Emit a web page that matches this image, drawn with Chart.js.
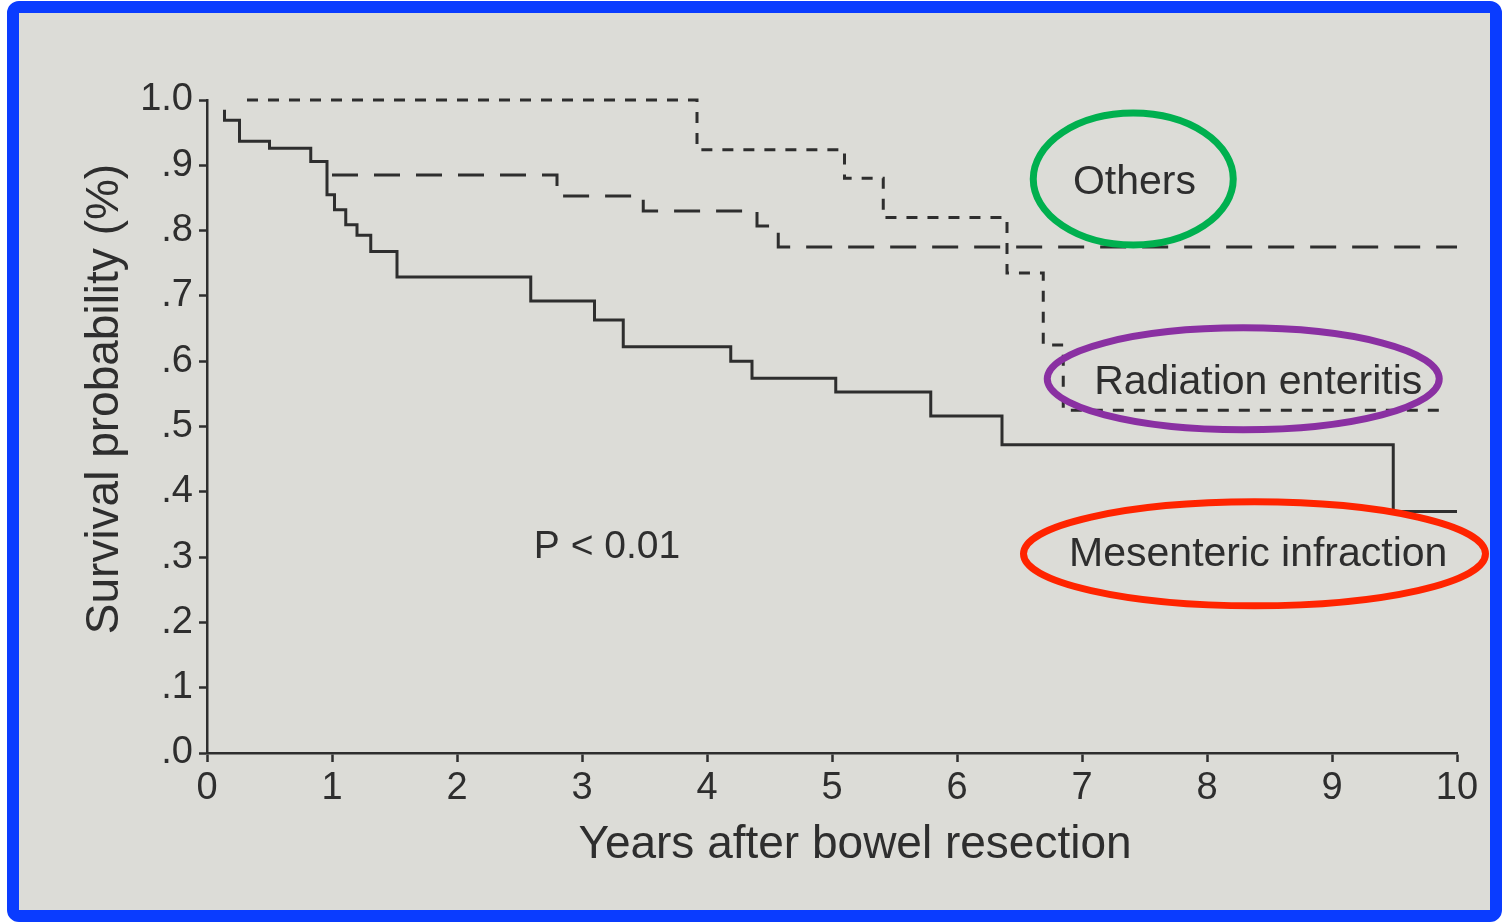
<!DOCTYPE html>
<html>
<head>
<meta charset="utf-8">
<script src="https://cdn.jsdelivr.net/npm/chart.js@4.4.1/dist/chart.umd.min.js"></script>
<style>
  html, body { margin: 0; padding: 0; background: #fff; width: 1502px; height: 922px; overflow: hidden; }
  #frame {
    position: absolute; left: 7px; top: 1px; width: 1495px; height: 921px;
    box-sizing: border-box; border: 12px solid #0a3cff; border-radius: 12px;
    overflow: hidden; background: #dcdcd7;
  }
  #chart { position: absolute; left: -19px; top: -13px; }
</style>
</head>
<body>
<div id="frame"><canvas id="chart" width="1502" height="922"></canvas></div>
<script>
// Kaplan-Meier steps (years, survival)
const mesentericYears = [0.14, 0.14, 0.26, 0.50, 0.83, 0.96, 1.02, 1.11, 1.20, 1.31, 1.52, 2.59, 3.10, 3.33, 4.19, 4.36, 5.03, 5.79, 6.36, 9.49, 10.0];
const mesentericSurvival = [0.985, 0.969, 0.937, 0.926, 0.906, 0.855, 0.832, 0.809, 0.793, 0.768, 0.729, 0.692, 0.663, 0.622, 0.600, 0.574, 0.553, 0.516, 0.472, 0.370, 0.370];

const othersYears = [1.0, 2.80, 3.49, 4.40, 4.57, 10.0];
const othersSurvival = [0.885, 0.853, 0.830, 0.807, 0.775, 0.775];

const radiationYears = [0.32, 3.92, 5.10, 5.41, 6.40, 6.69, 6.85, 9.93];
const radiationSurvival = [1.0, 0.924, 0.880, 0.820, 0.735, 0.625, 0.525, 0.525];

const xTickLabels = ['0', '1', '2', '3', '4', '5', '6', '7', '8', '9', '10'];
const yTickLabels = ['.0', '.1', '.2', '.3', '.4', '.5', '.6', '.7', '.8', '.9', '1.0'];

const ink = '#2e2e2e';
const font = '"Liberation Sans", Arial, Helvetica, sans-serif';

function points(xs, ys) {
  return xs.map((x, i) => ({ x: x, y: ys[i] }));
}

// labels with circled notes, placed in data units
const notes = [
  { text: 'Others', x: 7.42, y: 0.873, ex: 7.41, ey: 0.879, rx: 100, ry: 66, color: '#00b04f' },
  { text: 'Radiation enteritis', x: 8.41, y: 0.567, ex: 8.29, ey: 0.573, rx: 196, ry: 51, color: '#8a30a2' },
  { text: 'Mesenteric infraction', x: 8.41, y: 0.303, ex: 8.38, ey: 0.305, rx: 231, ry: 52, color: '#ff2400' },
  { text: 'P < 0.01', x: 3.20, y: 0.315 }
];

const notesPlugin = {
  id: 'notes',
  afterDatasetsDraw(chart) {
    const ctx = chart.ctx;
    const xs = chart.scales.x, ys = chart.scales.y;
    ctx.save();
    ctx.fillStyle = ink;
    ctx.textAlign = 'center';
    ctx.textBaseline = 'middle';

    // axis titles
    ctx.font = '46px ' + font;
    ctx.fillText('Years after bowel resection', 855, 845);
    ctx.save();
    ctx.translate(105, 399);
    ctx.rotate(-Math.PI / 2);
    ctx.fillText('Survival probability (%)', 0, 0);
    ctx.restore();

    notes.forEach(n => {
      ctx.font = (n.color ? 41 : 39) + 'px ' + font;
      ctx.fillStyle = ink;
      ctx.fillText(n.text, xs.getPixelForValue(n.x), ys.getPixelForValue(n.y));
      if (n.color) {
        ctx.beginPath();
        ctx.ellipse(xs.getPixelForValue(n.ex), ys.getPixelForValue(n.ey), n.rx, n.ry, 0, 0, Math.PI * 2);
        ctx.strokeStyle = n.color;
        ctx.lineWidth = 7;
        ctx.stroke();
      }
    });
    ctx.restore();
  }
};

new Chart(document.getElementById('chart'), {
  type: 'line',
  data: {
    datasets: [
      {
        label: 'Mesenteric infraction',
        data: points(mesentericYears, mesentericSurvival),
        borderColor: ink,
        borderWidth: 3,
      },
      {
        label: 'Others',
        data: points(othersYears, othersSurvival),
        borderColor: ink,
        borderWidth: 3,
        borderDash: [26, 16],
      },
      {
        label: 'Radiation enteritis',
        data: points(radiationYears, radiationSurvival),
        borderColor: ink,
        borderWidth: 3,
        borderDash: [11, 10],
      },
    ],
  },
  options: {
    responsive: false,
    animation: false,
    elements: {
      // horizontal first, then drop: a survival step
      line: { stepped: true, tension: 0, fill: false },
      point: { radius: 0 },
    },
    datasets: { line: { clip: false } },
    layout: { padding: { top: 100, right: 45, left: 0, bottom: 0 } },
    plugins: { legend: { display: false }, tooltip: { enabled: false } },
    scales: {
      x: {
        type: 'linear',
        min: 0,
        max: 10,
        ticks: {
          stepSize: 1,
          color: ink,
          font: { family: font, size: 38 },
          padding: 4,
          maxRotation: 0,
          callback: (v, i) => xTickLabels[i],
        },
        grid: { drawOnChartArea: false, tickLength: 9, tickColor: ink, tickWidth: 2.5 },
        border: { color: ink, width: 2.5 },
        afterFit(scale) { scale.height = 169; },
      },
      y: {
        min: 0,
        max: 1,
        ticks: {
          stepSize: 0.1,
          color: ink,
          font: { family: font, size: 38 },
          padding: 6,
          callback: (v, i) => yTickLabels[i],
        },
        grid: { drawOnChartArea: false, tickLength: 8, tickColor: ink, tickWidth: 2.5 },
        border: { color: ink, width: 2.5 },
        afterFit(scale) { scale.width = 207; },
      },
    },
  },
  plugins: [notesPlugin],
});
</script>
</body>
</html>
